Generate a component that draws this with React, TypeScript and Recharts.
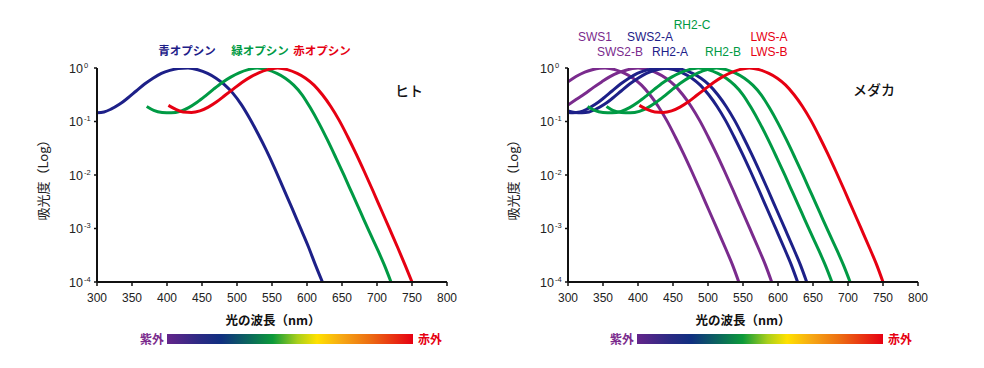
import { LineChart, Line, XAxis, YAxis } from 'recharts'

const NAVY = '#1d2088'
const GREEN = '#009a44'
const RED = '#e60012'
const PURPLE = '#7a2b8d'
const JP = '"Noto Sans CJK JP", "Noto Sans", sans-serif'
const LAT = '"Liberation Sans", Arial, "Noto Sans CJK JP", sans-serif'

const nmTicks = [300, 350, 400, 450, 500, 550, 600, 650, 700, 750, 800]
const logTicks = [0.0001, 0.001, 0.01, 0.1, 1]

// ヒト  [波長 nm, 吸光度]
const humanBlue = [
  [300, 0.146], [310, 0.151], [320, 0.17], [332, 0.209], [344, 0.275], [356, 0.372], [368, 0.501],
  [380, 0.646], [392, 0.794], [404, 0.902], [416, 0.973], [430, 1], [444, 0.93], [458, 0.794],
  [470, 0.646], [482, 0.49], [494, 0.339], [506, 0.209], [518, 0.115], [530, 0.0589], [542, 0.0288],
  [554, 0.0132], [566, 0.00575], [578, 0.00251], [590, 0.00107], [602, 0.000457], [612, 0.000209],
  [622, 0.0001],
]
const humanGreen = [
  [371, 0.191], [381, 0.162], [393, 0.148], [406, 0.145], [419, 0.155], [431, 0.182], [443, 0.229],
  [455, 0.302], [467, 0.407], [479, 0.537], [491, 0.676], [503, 0.813], [516, 0.933], [529, 1],
  [543, 0.933], [557, 0.794], [569, 0.646], [581, 0.479], [593, 0.316], [605, 0.178], [617, 0.0933],
  [629, 0.0457], [641, 0.0214], [653, 0.0098], [665, 0.00437], [677, 0.00195], [689, 0.00087],
  [701, 0.000398], [711, 0.0002], [720, 0.0001],
]
const humanRed = [
  [402, 0.2], [412, 0.17], [423, 0.151], [435, 0.148], [447, 0.158], [459, 0.186], [471, 0.234],
  [483, 0.309], [495, 0.407], [507, 0.537], [519, 0.676], [531, 0.813], [544, 0.933], [558, 1],
  [572, 0.933], [586, 0.794], [598, 0.646], [610, 0.479], [622, 0.316], [634, 0.191], [646, 0.105],
  [658, 0.0525], [670, 0.0251], [682, 0.0115], [694, 0.00513], [706, 0.00224], [718, 0.00098],
  [730, 0.000427], [740, 0.000209], [750, 0.0001],
]

// メダカ
const sws1 = [
  [300, 0.55], [312, 0.7], [324, 0.84], [336, 0.94], [345, 0.985], [353, 1], [367, 0.933], [381, 0.794],
  [393, 0.646], [405, 0.479], [417, 0.316], [429, 0.191], [441, 0.105], [453, 0.0525], [465, 0.0251],
  [477, 0.0115], [489, 0.00513], [501, 0.00224], [513, 0.00098], [525, 0.000427], [535, 0.000209],
  [544, 0.0001],
]
const sws2b = [
  [300, 0.204], [312, 0.26], [324, 0.33], [336, 0.43], [348, 0.55], [360, 0.69], [372, 0.82], [384, 0.92],
  [392, 0.975], [400, 1], [414, 0.933], [428, 0.794], [440, 0.646], [452, 0.479], [464, 0.316],
  [476, 0.191], [488, 0.105], [500, 0.0525], [512, 0.0251], [524, 0.0115], [536, 0.00513],
  [548, 0.00224], [560, 0.00098], [572, 0.000427], [582, 0.000209], [591, 0.0001],
]
const sws2a = [
  [300, 0.148], [307, 0.146], [317, 0.151], [327, 0.17], [339, 0.209], [351, 0.275], [363, 0.372],
  [375, 0.501], [387, 0.646], [399, 0.794], [411, 0.902], [423, 0.973], [437, 1], [451, 0.933],
  [465, 0.794], [477, 0.646], [489, 0.479], [501, 0.316], [513, 0.191], [525, 0.105], [537, 0.0525],
  [549, 0.0251], [561, 0.0115], [573, 0.00513], [585, 0.00224], [597, 0.00098], [609, 0.000427],
  [619, 0.000209], [628, 0.0001],
]
const rh2a = [
  [300, 0.158], [310, 0.148], [320, 0.146], [330, 0.151], [340, 0.17], [352, 0.209], [364, 0.275],
  [376, 0.372], [388, 0.501], [400, 0.646], [412, 0.794], [424, 0.902], [436, 0.973], [450, 1],
  [464, 0.933], [478, 0.794], [490, 0.646], [502, 0.479], [514, 0.316], [526, 0.191], [538, 0.105],
  [550, 0.0525], [562, 0.0251], [574, 0.0115], [586, 0.00513], [598, 0.00224], [610, 0.00098],
  [622, 0.000427], [632, 0.000209], [641, 0.0001],
]
const rh2c = [
  [328, 0.191], [338, 0.162], [350, 0.148], [363, 0.145], [376, 0.155], [388, 0.182], [400, 0.229],
  [412, 0.302], [424, 0.407], [436, 0.537], [448, 0.676], [460, 0.813], [473, 0.933], [486, 1],
  [500, 0.933], [514, 0.794], [526, 0.646], [538, 0.479], [550, 0.316], [562, 0.178], [574, 0.0933],
  [586, 0.0457], [598, 0.0214], [610, 0.0098], [622, 0.00437], [634, 0.00195], [646, 0.00087],
  [658, 0.000398], [668, 0.0002], [677, 0.0001],
]
const rh2b = [
  [355, 0.191], [364, 0.162], [376, 0.148], [389, 0.145], [402, 0.155], [414, 0.182], [426, 0.229],
  [438, 0.302], [450, 0.407], [462, 0.537], [474, 0.676], [486, 0.813], [499, 0.933], [512, 1],
  [526, 0.933], [540, 0.794], [552, 0.646], [564, 0.479], [576, 0.316], [588, 0.178], [600, 0.0933],
  [612, 0.0457], [624, 0.0214], [636, 0.0098], [648, 0.00437], [660, 0.00195], [672, 0.00087],
  [684, 0.000398], [694, 0.0002], [703, 0.0001],
]
const lws = [
  [402, 0.2], [412, 0.17], [424, 0.151], [436, 0.148], [448, 0.158], [460, 0.186], [472, 0.234],
  [484, 0.309], [496, 0.407], [508, 0.537], [520, 0.676], [532, 0.813], [545, 0.933], [559, 1],
  [573, 0.933], [587, 0.794], [599, 0.646], [611, 0.479], [623, 0.316], [635, 0.191], [647, 0.105],
  [659, 0.0525], [671, 0.0251], [683, 0.0115], [695, 0.00513], [707, 0.00224], [719, 0.00098],
  [731, 0.000427], [741, 0.000209], [750, 0.0001],
]

const toRows = (pts: number[][]) => pts.map(([nm, v]) => ({ nm, v }))

const humanCurves = [
  { id: 'blue', color: NAVY, pts: humanBlue },
  { id: 'green', color: GREEN, pts: humanGreen },
  { id: 'red', color: RED, pts: humanRed },
]
const medakaCurves = [
  { id: 'sws1', color: PURPLE, pts: sws1 },
  { id: 'sws2b', color: PURPLE, pts: sws2b },
  { id: 'sws2a', color: NAVY, pts: sws2a },
  { id: 'rh2a', color: NAVY, pts: rh2a },
  { id: 'rh2c', color: GREEN, pts: rh2c },
  { id: 'rh2b', color: GREEN, pts: rh2b },
  { id: 'lws', color: RED, pts: lws },
]

const XTick = (props: any) => {
  const { x, y, payload } = props
  return (
    <text x={x} y={y + 16} textAnchor="middle" fontSize={12} fontFamily={LAT} fill="#222">
      {payload.value}
    </text>
  )
}

const YTick = (props: any) => {
  const { x, y, payload } = props
  const exp = Math.round(Math.log10(payload.value))
  return (
    <g fontFamily={LAT} fill="#222">
      <text x={x - 11} y={y + 4.5} textAnchor="end" fontSize={12.5}>10</text>
      <text x={x - 10} y={y - 0.5} textAnchor="start" fontSize={7.5}>{exp}</text>
    </g>
  )
}

function Spectrum({ left, curves }: { left: number; curves: { id: string; color: string; pts: number[][] }[] }) {
  return (
    <div style={{ position: 'absolute', left, top: 0 }}>
      <LineChart width={470} height={368} margin={{ top: 68, right: 23, bottom: 56, left: 0 }}>
        <XAxis
          type="number" dataKey="nm" domain={[300, 800]} ticks={nmTicks} height={30}
          axisLine={{ stroke: '#111', strokeWidth: 2 }} tickLine={{ stroke: '#111', strokeWidth: 1.5 }}
          tickSize={4} tickMargin={0} tick={<XTick />} allowDataOverflow
        />
        <YAxis
          type="number" scale="log" domain={[0.0001, 1]} ticks={logTicks} width={97}
          axisLine={{ stroke: '#111', strokeWidth: 2 }} tickLine={{ stroke: '#111', strokeWidth: 1.5 }}
          tickSize={3} tickMargin={0} tick={<YTick />} allowDataOverflow
        />
        {curves.map(c => (
          <Line key={c.id} data={toRows(c.pts)} dataKey="v" type="monotone" stroke={c.color}
            strokeWidth={3} dot={false} isAnimationActive={false} />
        ))}
      </LineChart>
    </div>
  )
}

const Tag = ({ x, y, color, size = 12, weight = 400, font = LAT, children }: any) => (
  <div style={{
    position: 'absolute', left: x, top: y, transform: 'translate(-50%, -50%)', color,
    fontSize: size, fontWeight: weight, fontFamily: font, whiteSpace: 'nowrap', lineHeight: 1,
  }}>{children}</div>
)

const spectrumBg = 'linear-gradient(to right, #64258a 0%, #2c2a84 13%, #102f80 22%, #0b6a5a 34%, #0c9a3a 43%, #a8cf1c 53%, #ffe100 61%, #f6a814 71%, #ec6a12 83%, #e60012 100%)'

function AxisTitles({ dx }: { dx: number }) {
  return (
    <>
      <div style={{
        position: 'absolute', left: 42 + dx, top: 177, transform: 'translate(-50%, -50%) rotate(-90deg)',
        fontFamily: JP, fontSize: 13, color: '#222', whiteSpace: 'nowrap', lineHeight: 1,
      }}>吸光度（Log）</div>
      <Tag x={273 + dx} y={320} color="#111" size={12.5} weight={700} font={JP}>光の波長（nm）</Tag>
      <div style={{ position: 'absolute', left: 167 + dx, top: 334, width: 246, height: 10, background: spectrumBg }} />
      <Tag x={152 + dx} y={339} color={PURPLE} size={12} weight={700} font={JP}>紫外</Tag>
      <Tag x={430 + dx} y={339} color={RED} size={12} weight={700} font={JP}>赤外</Tag>
    </>
  )
}

export default function App() {
  return (
    <div style={{ position: 'fixed', left: 0, top: 0, width: 984, height: 368, background: '#fff', overflow: 'hidden' }}>
      <Spectrum left={0} curves={humanCurves} />
      <Spectrum left={471} curves={medakaCurves} />
      <AxisTitles dx={0} />
      <AxisTitles dx={470} />

      <Tag x={187} y={51} color={NAVY} size={11.5} weight={700} font={JP}>青オプシン</Tag>
      <Tag x={260} y={51} color={GREEN} size={11.5} weight={700} font={JP}>緑オプシン</Tag>
      <Tag x={322} y={51} color={RED} size={11.5} weight={700} font={JP}>赤オプシン</Tag>
      <Tag x={409} y={90} color="#111" size={14} weight={500} font={JP}>ヒト</Tag>

      <Tag x={595} y={37} color={PURPLE} size={12}>SWS1</Tag>
      <Tag x={620} y={52} color={PURPLE} size={12}>SWS2-B</Tag>
      <Tag x={650} y={37} color={NAVY} size={12}>SWS2-A</Tag>
      <Tag x={670} y={52} color={NAVY} size={12}>RH2-A</Tag>
      <Tag x={692} y={25} color={GREEN} size={12}>RH2-C</Tag>
      <Tag x={723} y={52} color={GREEN} size={12}>RH2-B</Tag>
      <Tag x={769} y={37} color={RED} size={12}>LWS-A</Tag>
      <Tag x={769} y={52} color={RED} size={12}>LWS-B</Tag>
      <Tag x={874} y={89} color="#111" size={14} weight={500} font={JP}>メダカ</Tag>
    </div>
  )
}
